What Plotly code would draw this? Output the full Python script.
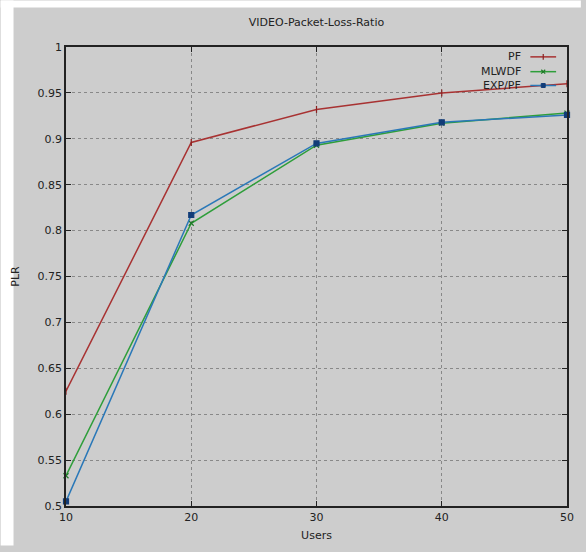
import plotly.graph_objects as go

users = [10, 20, 30, 40, 50]
pf = [0.625, 0.896, 0.932, 0.950, 0.960]
mlwdf = [0.533, 0.808, 0.893, 0.917, 0.928]
exppf = [0.505, 0.817, 0.895, 0.918, 0.926]
series_names = ["PF", "MLWDF", "EXP/PF"]
colors = ["#a83232", "#2e9e3a", "#2a78b8"]
marker_colors = ["#8a1f1f", "#1f7a28", "#123c78"]
marker_symbols = ["line-ns", "x-thin", "square"]
yticks = [0.5, 0.55, 0.6, 0.65, 0.7, 0.75, 0.8, 0.85, 0.9, 0.95, 1]
ytick_text = ["0.5", "0.55", "0.6", "0.65", "0.7", "0.75", "0.8", "0.85", "0.9", "0.95", "1"]

W, H = 586, 552
L, R, T, B = 66, 14, 47, 40
pw, ph = W - L - R, H - T - B

def px_x(p):
    return (p - L) / pw

def px_y(p):
    return (H - B - p) / ph

fig = go.Figure()
for name, ys, c, mc, ms in zip(series_names, [pf, mlwdf, exppf], colors, marker_colors, marker_symbols):
    fig.add_trace(go.Scatter(
        x=users, y=ys, mode="lines+markers", name=name,
        line=dict(color=c, width=1.5),
        marker=dict(color=mc, size=5, symbol=ms, line=dict(color=mc, width=1.2)),
        showlegend=False, cliponaxis=False,
    ))

shapes = [
    dict(type="rect", xref="paper", yref="paper", x0=px_x(0), x1=px_x(W), y0=px_y(0), y1=px_y(7),
         fillcolor="white", line=dict(width=0), layer="below"),
    dict(type="rect", xref="paper", yref="paper", x0=px_x(0), x1=px_x(13), y0=px_y(0), y1=px_y(H),
         fillcolor="white", line=dict(width=0), layer="below"),
]
annotations = []
legend_y = [57, 72, 86]
for name, c, mc, ms, ly in zip(series_names, colors, marker_colors, marker_symbols, legend_y):
    annotations.append(dict(xref="paper", yref="paper", x=px_x(528), y=px_y(ly), text=name,
                            showarrow=False, xanchor="right", yanchor="middle",
                            font=dict(size=11, color="#222")))
    shapes.append(dict(type="line", xref="paper", yref="paper", x0=px_x(535), x1=px_x(561),
                       y0=px_y(ly), y1=px_y(ly), line=dict(color=c, width=1.5)))
    if ms == "square":
        shapes.append(dict(type="rect", xref="paper", yref="paper", x0=px_x(546), x1=px_x(550),
                           y0=px_y(ly + 2), y1=px_y(ly - 2), fillcolor=mc, line=dict(color=mc, width=1)))
    elif ms == "line-ns":
        shapes.append(dict(type="line", xref="paper", yref="paper", x0=px_x(548), x1=px_x(548),
                           y0=px_y(ly + 3), y1=px_y(ly - 3), line=dict(color=mc, width=1.2)))
    else:
        shapes.append(dict(type="line", xref="paper", yref="paper", x0=px_x(546), x1=px_x(550),
                           y0=px_y(ly + 2), y1=px_y(ly - 2), line=dict(color=mc, width=1.2)))
        shapes.append(dict(type="line", xref="paper", yref="paper", x0=px_x(546), x1=px_x(550),
                           y0=px_y(ly - 2), y1=px_y(ly + 2), line=dict(color=mc, width=1.2)))

fig.update_layout(
    width=W, height=H,
    margin=dict(l=L, r=R, t=T, b=B),
    paper_bgcolor="#cdcdcd",
    plot_bgcolor="#cdcdcd",
    font=dict(family="DejaVu Sans", size=11, color="#222"),
    title=dict(text="VIDEO-Packet-Loss-Ratio", x=0.5, xref="paper", y=1 - 22 / H, yanchor="middle",
               font=dict(size=11, color="#222")),
    shapes=shapes,
    annotations=annotations,
    xaxis=dict(
        range=[10, 50], tickvals=users, ticktext=[str(u) for u in users],
        showline=True, linecolor="#222", linewidth=1.5, mirror="ticks",
        ticks="inside", ticklen=5, tickcolor="#222",
        showgrid=True, gridcolor="#888", griddash="dot", gridwidth=1,
        zeroline=False,
        title=dict(text="Users", standoff=8, font=dict(size=11)),
        tickfont=dict(size=11),
    ),
    yaxis=dict(
        range=[0.5, 1], tickvals=yticks, ticktext=ytick_text,
        showline=True, linecolor="#222", linewidth=1.5, mirror="ticks",
        ticks="inside", ticklen=5, tickcolor="#222",
        showgrid=True, gridcolor="#888", griddash="dot", gridwidth=1,
        zeroline=False,
        title=dict(text="PLR", standoff=16, font=dict(size=11)),
        tickfont=dict(size=11),
    ),
)

fig.write_html("out.html", config={"displayModeBar": False},
               post_script="document.body.style.margin='0';document.body.style.overflow='hidden';")
